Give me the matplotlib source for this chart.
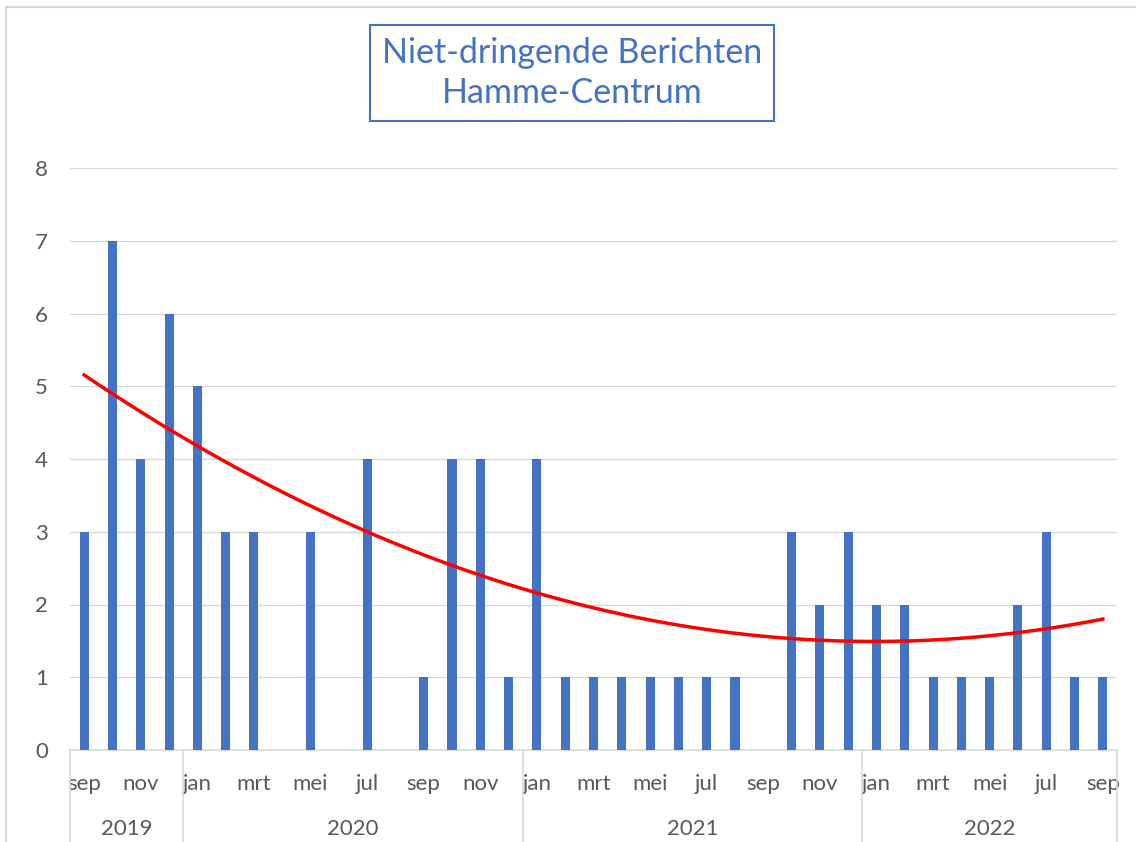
import numpy as np
import matplotlib.pyplot as plt
from matplotlib.patches import Rectangle

months = ['sep', 'okt', 'nov', 'dec',
          'jan', 'feb', 'mrt', 'apr', 'mei', 'jun', 'jul', 'aug', 'sep', 'okt', 'nov', 'dec',
          'jan', 'feb', 'mrt', 'apr', 'mei', 'jun', 'jul', 'aug', 'sep', 'okt', 'nov', 'dec',
          'jan', 'feb', 'mrt', 'apr', 'mei', 'jun', 'jul', 'aug', 'sep']
# None = empty month (no reports), left out of the trendline like blank cells in Excel
counts = [3, 7, 4, 6,
          5, 3, 3, None, 3, None, 4, None, 1, 4, 4, 1,
          4, 1, 1, 1, 1, 1, 1, 1, None, 3, 2, 3,
          2, 2, 1, 1, 1, 2, 3, 1, 1]
years = ['2019', '2020', '2021', '2022']
year_sizes = [4, 12, 12, 9]

W, H = 1136, 842
fig = plt.figure(figsize=(W / 100, H / 100), dpi=100)
plt.rcParams['font.family'] = ['Lato', 'DejaVu Sans']
txt = '#595959'
grid = '#D9D9D9'
blue = '#4472C4'

# outer chart border (only top/left visible in the crop)
fig.patches.append(Rectangle((6 / W, -0.1), 1.2, 1 - 7 / H + 0.1, transform=fig.transFigure,
                             fill=False, ec=grid, lw=1.5))

ax = fig.add_axes([70 / W, (H - 750) / H, (1117 - 70) / W, (750 - 168) / H])
y = np.array(counts, dtype=float)
x = np.arange(len(y))
ok = np.isfinite(y)
ax.bar(x[ok], y[ok], width=0.32, color=blue, zorder=3)

# polynomial (order 2) trendline like Excel
coef = np.polyfit(x[ok], y[ok], 2)
xs = np.linspace(0, len(y) - 1, 200)
ax.plot(xs, np.polyval(coef, xs), color='red', lw=2.5, zorder=4)

ax.set_xlim(-0.5, len(y) - 0.5)
ax.set_ylim(0, 8)
ax.set_yticks(range(9))
ax.grid(axis='y', color=grid, lw=1, zorder=0)
for s in ['top', 'right', 'left']:
    ax.spines[s].set_visible(False)
ax.spines['bottom'].set_color(grid)
ax.spines['bottom'].set_linewidth(1.2)
ax.tick_params(axis='y', length=0, pad=16, labelsize=16, labelcolor=txt)
ax.tick_params(axis='x', length=0, pad=17, labelsize=16, labelcolor=txt)
ax.set_xticks(x[::2])
ax.set_xticklabels(months[::2])

# year groups under the month labels
trans = ax.get_xaxis_transform()
edges = np.concatenate([[0], np.cumsum(year_sizes)]) - 0.5
for e in edges:
    ax.plot([e, e], [0, -0.2], transform=trans, color=grid, lw=1.2, clip_on=False)
for i, yr in enumerate(years):
    ax.text((edges[i] + edges[i + 1]) / 2, -79 / 582, yr, transform=trans,
            ha='center', va='center', fontsize=16, color=txt)

fig.text(572 / W, 1 - 73 / H, 'Niet-dringende Berichten\nHamme-Centrum', ha='center', va='center',
         fontsize=24.5, color=blue, linespacing=1.3,
         bbox=dict(boxstyle='square,pad=0.35', fc='white', ec=blue, lw=1.5))

fig.savefig('out.png', dpi=100)
